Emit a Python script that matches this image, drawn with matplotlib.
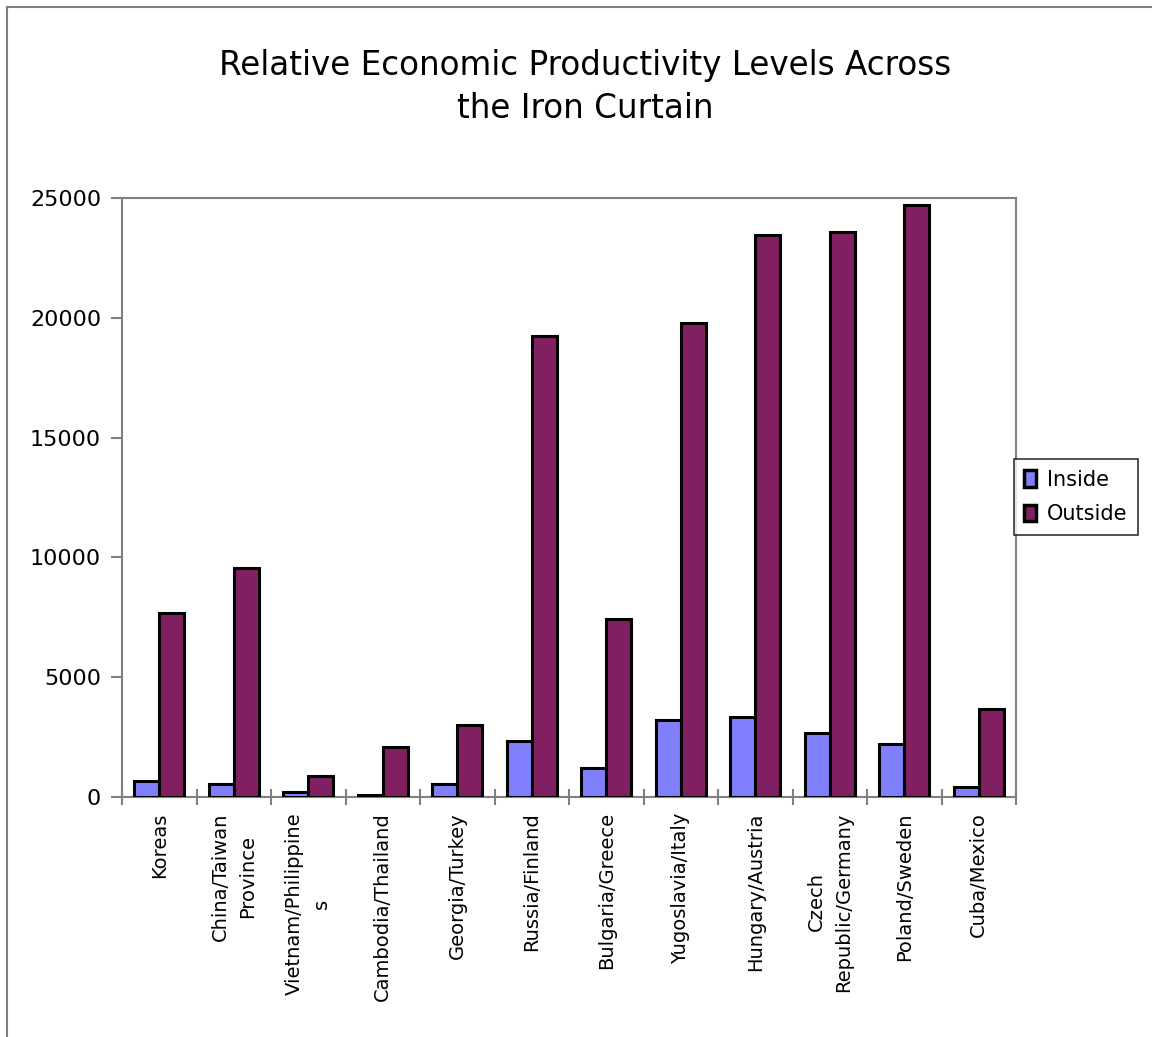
import matplotlib
matplotlib.use("Agg")
import matplotlib.pyplot as plt
import numpy as np
from matplotlib.lines import Line2D

categories = ["Koreas", "China/Taiwan\nProvince", "Vietnam/Philippine\ns",
              "Cambodia/Thailand", "Georgia/Turkey", "Russia/Finland",
              "Bulgaria/Greece", "Yugoslavia/Italy", "Hungary/Austria",
              "Czech\nRepublic/Germany", "Poland/Sweden", "Cuba/Mexico"]
inside = [650, 540, 200, 80, 540, 2340, 1210, 3210, 3340, 2670, 2210, 420]
outside = [7680, 9560, 880, 2090, 3000, 19240, 7430, 19780, 23460, 23580, 24710, 3670]
yticks = [0, 5000, 10000, 15000, 20000, 25000]

plt.rcParams['font.family'] = ['DejaVu Sans']
fig = plt.figure(figsize=(11.52, 10.37), dpi=100)
ax = fig.add_axes([122/1152, 1-797/1037, (1016-122)/1152, (797-198)/1037])

x = np.arange(len(categories))
w = 1/3
ax.bar(x - w/2, inside, w, color="#8080FF", edgecolor="black", linewidth=2.2, label="Inside", zorder=3)
ax.bar(x + w/2, outside, w, color="#802060", edgecolor="black", linewidth=2.2, label="Outside", zorder=3)

ax.set_xlim(-0.5, len(categories) - 0.5)
ax.set_ylim(0, 25000)
ax.set_yticks(yticks)
ax.set_yticklabels([str(v) for v in yticks], fontsize=16)
ax.tick_params(axis='y', direction='out', length=8, width=1.5, color='#808080', pad=7)

ax.set_xticks(x)
ax.set_xticklabels(categories, rotation=90, fontsize=14, va='top', ha='center',
                   multialignment='center', linespacing=1.55)
ax.tick_params(axis='x', which='major', length=0, pad=11)
ax.set_xticks(np.arange(-0.5, len(categories) + 0.5, 1), minor=True)
ax.tick_params(axis='x', which='minor', direction='inout', length=12, width=1.5, color='#808080')

for s in ax.spines.values():
    s.set_color('#808080')
    s.set_linewidth(1.5)

fig.text(0.508, 1-87/1037, "Relative Economic Productivity Levels Across\nthe Iron Curtain",
         ha='center', va='center', fontsize=23.5, linespacing=1.35)

leg = fig.legend(loc='center left', bbox_to_anchor=(1014/1152, 1-497/1037),
                 fontsize=15, frameon=True, fancybox=False, handlelength=0.55,
                 handleheight=0.85, handletextpad=0.55, borderpad=0.5, labelspacing=0.7,
                 borderaxespad=0)
leg.get_frame().set_edgecolor('black')
leg.get_frame().set_linewidth(1.2)
for h in leg.legend_handles:
    h.set_linewidth(2.5)

fig.add_artist(Line2D([7/1152, 1.0], [1-7/1037, 1-7/1037], color='#808080', linewidth=1.5))
fig.add_artist(Line2D([7/1152, 7/1152], [0, 1-7/1037], color='#808080', linewidth=1.5))

fig.savefig("out.png", dpi=100)
